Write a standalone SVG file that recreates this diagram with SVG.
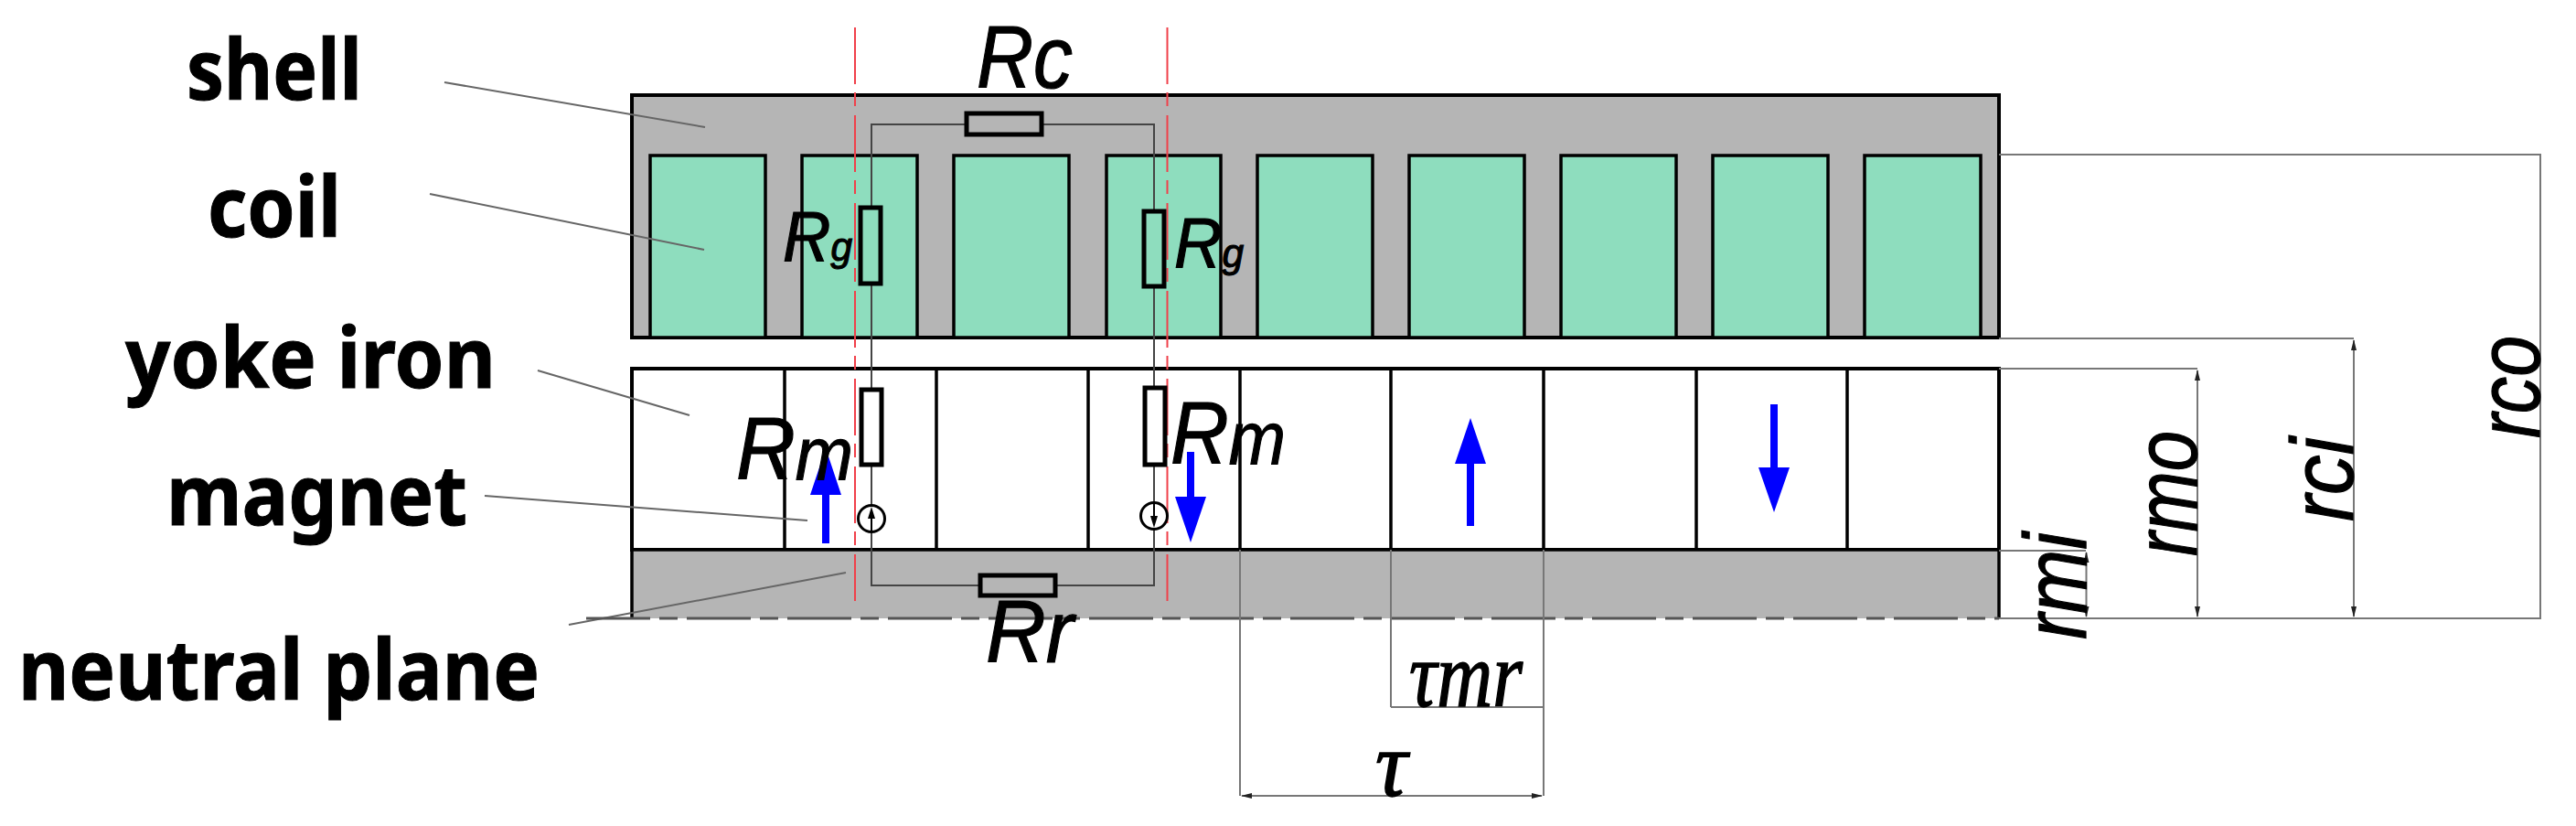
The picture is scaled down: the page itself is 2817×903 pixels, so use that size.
<svg xmlns="http://www.w3.org/2000/svg" width="2817" height="903" viewBox="0 0 2817 903">
<style>
.s{stroke:#000;stroke-width:3.5;fill:none}
.coil{fill:#8eddbe;stroke:#000;stroke-width:3.5}
.thin{stroke:#777;stroke-width:2;fill:none}
.wire{stroke:#444;stroke-width:2;fill:none}
.lead{stroke:#666;stroke-width:2;fill:none}
.res{stroke:#000;stroke-width:5;fill:none}
.red{stroke:#f0404a;stroke-width:2;fill:none;stroke-dasharray:62 9 15 10}
.lb{font-family:"Noto Sans","Noto Sans CJK KR",sans-serif;font-weight:700;font-size:92px;fill:#000;stroke:#000;stroke-width:1}
.it{font-family:"Liberation Sans",Arial,sans-serif;font-style:italic;fill:#000;stroke:#000;stroke-width:1.2}
.ser{font-family:"Liberation Serif","Times New Roman",serif;font-style:italic;fill:#000;font-size:102px;stroke:#000;stroke-width:1.500}
.blue{fill:#0000ff}
</style>
<defs>
<marker id="dim" markerWidth="12" markerHeight="8" refX="11" refY="4" orient="auto-start-reverse" markerUnits="userSpaceOnUse"><path d="M0 1L12 4L0 7Z" fill="#222"/></marker>
</defs>
<rect width="2817" height="903" fill="#fff"/>
<g id="shell"><rect x="691" y="104" width="1495" height="265" fill="#b5b5b5" stroke="#000" stroke-width="4"/></g>
<g id="coils">
<rect class="coil" x="711" y="170" width="126" height="199"/>
<rect class="coil" x="877" y="170" width="126" height="199"/>
<rect class="coil" x="1043" y="170" width="126" height="199"/>
<rect class="coil" x="1210" y="170" width="125" height="199"/>
<rect class="coil" x="1375" y="170" width="126" height="199"/>
<rect class="coil" x="1541" y="170" width="126" height="199"/>
<rect class="coil" x="1707" y="170" width="126" height="199"/>
<rect class="coil" x="1873" y="170" width="126" height="199"/>
<rect class="coil" x="2039" y="170" width="127" height="199"/>
</g>
<g id="yoke"><rect x="691" y="403" width="1495" height="198" fill="#fff" stroke="#000" stroke-width="4"/>
<path class="s" d="M858 403V601M1024 403V601M1190 403V601M1356 403V601M1521 403V601M1688 403V601M1855 403V601M2020 403V601"/></g>
<g id="rotor"><path d="M691 601H2186V676H691Z" fill="#b5b5b5"/><path d="M691 601H2186M691 601V676M2186 601V676" class="s"/></g>
<g id="connectors">
<path class="lead" d="M486 90L771 139M470 212L770 273M588 405L754 454M530 542L883 569M622 683L925 626"/>
<path d="M641 676H2186" stroke="#555" stroke-width="3" stroke-dasharray="70 10 20 10" fill="none"/>
<path class="wire" d="M953 227V136H1057M1139 136H1262V231M953 310V426M1262 313V424M953 508V552M1262 508V549M953 582V640H1072M1154 640H1262V579"/>
<path class="red" d="M935 30V657M1276.500 30V657"/>
<path class="thin" d="M1356 601V870M1521 601V773M1688 601V870M1521 773H1688"/>
<path class="thin" d="M1358 870H1686" marker-start="url(#dim)" marker-end="url(#dim)"/>
<path class="thin" d="M2186 169H2778V676H2186M2186 370H2574M2186 403H2403M2186 602H2281"/>
<path class="thin" d="M2574 372V674" marker-start="url(#dim)" marker-end="url(#dim)"/>
<path class="thin" d="M2403 405V674" marker-start="url(#dim)" marker-end="url(#dim)"/>
<path class="thin" d="M2281.500 604V674" marker-start="url(#dim)" marker-end="url(#dim)"/>
</g>
<g id="resistors">
<rect class="res" x="1057" y="124" width="82" height="23"/>
<rect class="res" x="941" y="227" width="22" height="83"/>
<rect class="res" x="1251" y="231" width="22" height="82"/>
<rect class="res" x="942" y="426" width="22" height="82"/>
<rect class="res" x="1252" y="424" width="22" height="84"/>
<rect class="res" x="1072" y="629" width="82" height="22"/>
</g>
<g id="sources">
<circle cx="953" cy="567" r="14.500" fill="none" stroke="#000" stroke-width="3"/><path d="M953 554L957 567H954V580H952V567H949Z"/>
<circle cx="1262" cy="564" r="14.500" fill="none" stroke="#000" stroke-width="3"/><path d="M1262 577L1258 564H1261V551H1263V564H1266Z"/>
</g>
<g id="flux-arrows">
<path class="blue" d="M903 490L920 541H907V594H899V541H886Z"/>
<path class="blue" d="M1302 593L1285 543H1298V494H1306V543H1319Z"/>
<path class="blue" d="M1608 457L1625 507H1612V575H1604V507H1591Z"/>
<path class="blue" d="M1940 560L1923 511H1936V442H1944V511H1957Z"/>
</g>
<g id="labels">
<text class="lb" x="204" y="109" textLength="192" lengthAdjust="spacingAndGlyphs">shell</text>
<text class="lb" x="227" y="259" textLength="146" lengthAdjust="spacingAndGlyphs">coil</text>
<text class="lb" x="137" y="424" textLength="405" lengthAdjust="spacingAndGlyphs">yoke iron</text>
<text class="lb" x="182" y="574" textLength="329" lengthAdjust="spacingAndGlyphs">magnet</text>
<text class="lb" x="20" y="765" textLength="570" lengthAdjust="spacingAndGlyphs">neutral plane</text>
</g>
<g id="symbols">
<text class="it" x="1068" y="96" font-size="96" textLength="105" lengthAdjust="spacingAndGlyphs">Rc</text>
<text class="it" x="856" y="285" font-size="77" textLength="76" lengthAdjust="spacingAndGlyphs">R<tspan font-size="45">g</tspan></text>
<text class="it" x="1284" y="292" font-size="77" textLength="76" lengthAdjust="spacingAndGlyphs">R<tspan font-size="45">g</tspan></text>
<text class="it" x="805" y="524" font-size="97" textLength="128" lengthAdjust="spacingAndGlyphs">R<tspan font-size="82">m</tspan></text>
<text class="it" x="1280" y="507" font-size="97" textLength="126" lengthAdjust="spacingAndGlyphs">R<tspan font-size="82">m</tspan></text>
<text class="it" x="1078" y="724" font-size="96" textLength="96" lengthAdjust="spacingAndGlyphs">Rr</text>
<text class="ser" x="1541" y="772" textLength="124" lengthAdjust="spacingAndGlyphs">τmr</text>
<text class="ser" x="1504" y="870" textLength="35" lengthAdjust="spacingAndGlyphs">τ</text>
<text class="it" font-size="96" transform="translate(2777 479) rotate(-90)" textLength="112" lengthAdjust="spacingAndGlyphs">rco</text>
<text class="it" font-size="96" transform="translate(2402 608) rotate(-90)" textLength="137" lengthAdjust="spacingAndGlyphs">rmo</text>
<text class="it" font-size="96" transform="translate(2573 570) rotate(-90)" textLength="92" lengthAdjust="spacingAndGlyphs">rci</text>
<text class="it" font-size="96" transform="translate(2281 699) rotate(-90)" textLength="117" lengthAdjust="spacingAndGlyphs">rmi</text>
</g>
</svg>
